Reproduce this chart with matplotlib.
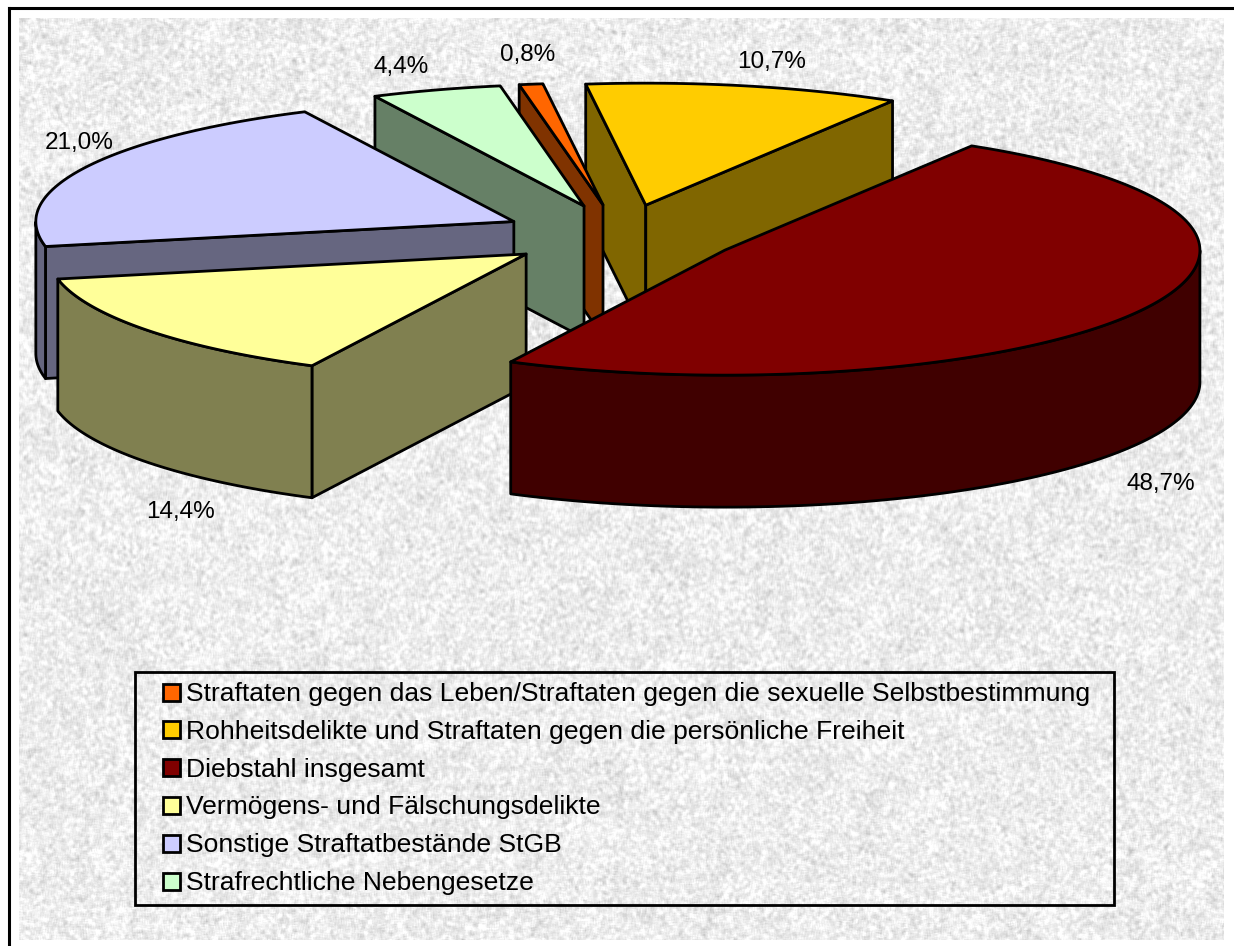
import numpy as np
import matplotlib
matplotlib.use("Agg")
import matplotlib.pyplot as plt
from matplotlib.patches import Polygon, Rectangle

W, H = 1234, 946

# ---- data ----
categories = [
    "Straftaten gegen das Leben/Straftaten gegen die sexuelle Selbstbestimmung",
    "Rohheitsdelikte und Straftaten gegen die persönliche Freiheit",
    "Diebstahl insgesamt",
    "Vermögens- und Fälschungsdelikte",
    "Sonstige Straftatbestände StGB",
    "Strafrechtliche Nebengesetze",
]
values = [0.8, 10.7, 48.7, 14.4, 21.0, 4.4]
value_labels = ["0,8%", "10,7%", "48,7%", "14,4%", "21,0%", "4,4%"]
top_colors = ["#FF6600", "#FFCC00", "#800000", "#FFFF99", "#CCCCFF", "#CCFFCC"]
side_colors = ["#803300", "#806600", "#400000", "#808050", "#666680", "#668066"]
draw_order = [1, 0, 5, 4, 3, 2]
label_xy = [(528, 55), (772, 62), (1161, 484), (180, 512), (79, 143), (401, 67)]

# ---- pie geometry (pixel units) ----
CX, CY = 621, 235
RX_RIGHT, RX_LEFT = 475, 478
RY_FRONT, RY_BACK = 125, 122
DEPTH = 132
EXPLODE = 0.25
START = -100.1
LW = 2.0

fig = plt.figure(figsize=(W / 100, H / 100), dpi=100, facecolor="white")
ax = fig.add_axes([0, 0, 1, 1])
ax.set_xlim(0, W)
ax.set_ylim(H, 0)
ax.axis("off")

# ---- marble-like background texture (decorative only) ----
rng = np.random.default_rng(7)
tx0, ty0, tw, th = 19, 19, 1205, 921


def blur(a, n):
    k = np.ones(n) / n
    a = np.apply_along_axis(lambda r: np.convolve(r, k, mode="same"), 1, a)
    return np.apply_along_axis(lambda c: np.convolve(c, k, mode="same"), 0, a)


pad = 50
fine = blur(rng.normal(size=(th + 2 * pad, tw + 2 * pad)), 4)[pad:-pad, pad:-pad]
fine /= fine.std()
coarse = blur(rng.normal(size=(th + 2 * pad, tw + 2 * pad)), 31)[pad:-pad, pad:-pad]
coarse /= coarse.std()
tex = np.clip(237 + 10 * fine + 2 * coarse, 195, 255)
ax.imshow(tex, cmap="gray", vmin=0, vmax=255, extent=(tx0, tx0 + tw, ty0 + th, ty0),
          interpolation="bilinear", aspect="auto", zorder=0)
ax.set_xlim(0, W)
ax.set_ylim(H, 0)

# ---- partial outer frame ----
ax.plot([8.5, 8.5], [H, 8.5], color="black", lw=2.2, zorder=1, solid_capstyle="projecting")
ax.plot([8.5, W], [8.5, 8.5], color="black", lw=2.2, zorder=1, solid_capstyle="projecting")

# ---- 3D exploded pie ----
vals = np.asarray(values, dtype=float)
spans = vals / vals.sum() * 360.0
starts = START + np.concatenate(([0.0], np.cumsum(spans)[:-1]))


def offs(deg):
    r = np.radians(deg)
    c, s = np.cos(r), np.sin(r)
    return (RX_RIGHT if c >= 0 else RX_LEFT) * c, (RY_FRONT if s >= 0 else RY_BACK) * s


def pt(cx, cy, deg, dz=0.0):
    dx, dy = offs(deg)
    return cx + dx, cy + dy + dz


z = 10
for i in draw_order:
    a0, a1 = starts[i], starts[i] + spans[i]
    mx, my = offs((a0 + a1) / 2)
    cx = CX + EXPLODE * mx
    cy = CY + EXPLODE * my
    # radial walls: shown when their outward normal faces the viewer
    for a, normal in ((a0, a0 - 90), (a1, a1 + 90)):
        if np.sin(np.radians(normal)) > 0:
            px, py = pt(cx, cy, a)
            wall = [(cx, cy), (px, py), (px, py + DEPTH), (cx, cy + DEPTH)]
            ax.add_patch(Polygon(wall, closed=True, fc=side_colors[i], ec="black",
                                 lw=LW, joinstyle="round", zorder=z))
            z += 1
    # rim wall: the parts of the arc on the near half of the ellipse
    ts = np.linspace(a0, a1, 400)
    near = np.sin(np.radians(ts)) >= 0
    if near.any():
        ts = ts[near]
        rim_top = [pt(cx, cy, t) for t in ts]
        rim_bot = [pt(cx, cy, t, DEPTH) for t in ts[::-1]]
        ax.add_patch(Polygon(rim_top + rim_bot, closed=True, fc=side_colors[i], ec="black",
                             lw=LW, joinstyle="round", zorder=z))
        z += 1
    # top face
    arc = [pt(cx, cy, t) for t in np.linspace(a0, a1, 400)]
    ax.add_patch(Polygon([(cx, cy)] + arc, closed=True, fc=top_colors[i], ec="black",
                         lw=LW, joinstyle="round", zorder=z))
    z += 1

# ---- value labels ----
FS_LABEL = 17.5
FS_LEGEND = 19.05
FAMILY = "Liberation Sans"
for txt, (x, y) in zip(value_labels, label_xy):
    ax.text(x, y, txt, ha="center", va="center", fontsize=FS_LABEL, family=FAMILY,
            color="black", zorder=200)

# ---- legend ----
ax.add_patch(Rectangle((135, 672), 979, 233, fc="none", ec="black", lw=2.0, zorder=150))
for k, (name, col) in enumerate(zip(categories, top_colors)):
    y = 692 + k * 37.8
    ax.add_patch(Rectangle((163, y - 8.5), 17, 17, fc=col, ec="black", lw=2.0, zorder=151))
    ax.text(186, y + 2, name, ha="left", va="center", fontsize=FS_LEGEND, family=FAMILY,
            color="black", zorder=200)

fig.savefig("out.png", dpi=100, facecolor="white")
